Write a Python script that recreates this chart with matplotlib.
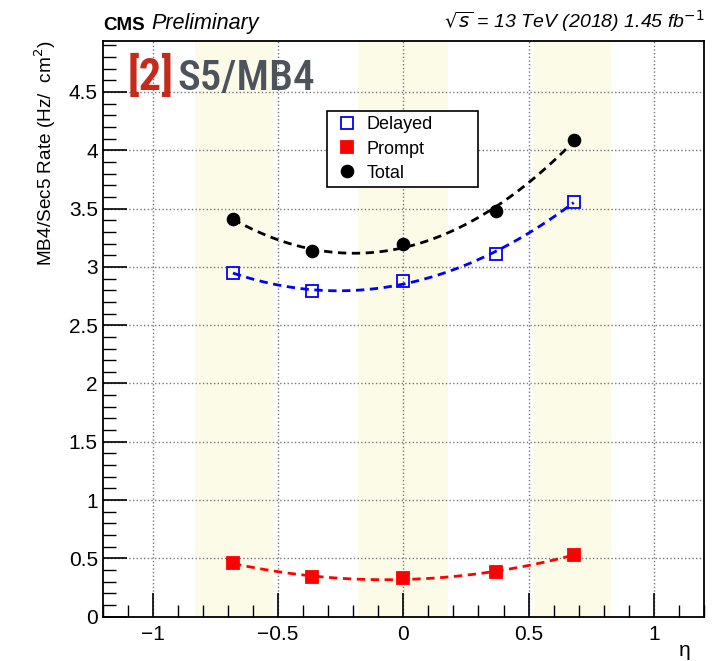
import numpy as np
import matplotlib
matplotlib.use('Agg')
import matplotlib.pyplot as plt
from matplotlib.ticker import MultipleLocator
from matplotlib.lines import Line2D

plt.rcParams['font.family'] = ['Liberation Sans', 'DejaVu Sans']

# eta positions of the five wheels
eta = [-0.68, -0.365, 0.0, 0.37, 0.68]
# rates (Hz/cm2)
delayed = [2.95, 2.79, 2.88, 3.11, 3.56]
prompt = [0.46, 0.34, 0.33, 0.385, 0.53]
total = [3.41, 3.14, 3.20, 3.48, 4.09]
# shaded eta bands
bands = [(-0.83, -0.52), (-0.18, 0.18), (0.52, 0.83)]

fig = plt.figure(figsize=(7.25, 6.61), dpi=100)
ax = fig.add_axes([0.1416, 0.067, 0.8294, 0.8715])

for lo, hi in bands:
    ax.axvspan(lo, hi, color='#fbfbe8', zorder=0, lw=0)

ax.grid(True, which='major', ls=':', color='#777777', lw=1.0, zorder=1)

series = [(delayed, 'blue', 's', 'none', 'Delayed'),
          (prompt, 'red', 's', 'red', 'Prompt'),
          (total, 'black', 'o', 'black', 'Total')]
handles = []
xf = np.linspace(eta[0], eta[-1], 100)
for vals, col, mk, fc, lab in series:
    p = np.polyfit(eta, vals, 2)
    ax.plot(xf, np.polyval(p, xf), ls=(0, (3, 2)), color=col, lw=2.0, zorder=3)
    ax.plot(eta, vals, ls='none', marker=mk, ms=8.5, mfc=fc, mec=col, mew=1.3, zorder=4)
    handles.append(Line2D([], [], ls='none', marker=mk, ms=8.5, mfc=fc, mec=col, mew=1.3, label=lab))

leg = ax.legend(handles=handles, loc='upper left', bbox_to_anchor=(0.373, 0.5, 0.251, 0.378),
                mode='expand', borderaxespad=0, fontsize=13, frameon=True, fancybox=False,
                edgecolor='black', framealpha=1, borderpad=0.3, handletextpad=0.3,
                labelspacing=0.4, handlelength=1.6)
leg.get_frame().set_linewidth(1.2)

ax.set_xlim(-1.2, 1.2)
ax.set_ylim(0, 4.94)
ax.xaxis.set_major_locator(MultipleLocator(0.5))
ax.xaxis.set_minor_locator(MultipleLocator(0.1))
ax.yaxis.set_major_locator(MultipleLocator(0.5))
ax.yaxis.set_minor_locator(MultipleLocator(0.1))
ax.tick_params(which='both', direction='in', labelsize=15, top=False, right=False)
ax.tick_params(which='major', length=17, width=1.2)
ax.tick_params(which='minor', length=9, width=1.0)
ax.tick_params(axis='x', pad=6)
ax.set_xticks([-1, -0.5, 0, 0.5, 1])
ax.set_xticklabels(['\u22121', '\u22120.5', '0', '0.5', '1'])
ax.set_yticks(np.arange(0, 4.6, 0.5))
ax.set_yticklabels(['0', '0.5', '1', '1.5', '2', '2.5', '3', '3.5', '4', '4.5'])
for s in ax.spines.values():
    s.set_linewidth(1.3)

ax.set_ylabel('MB4/Sec5 Rate (Hz/  cm$^2$)', fontsize=13.7, loc='top')
ax.yaxis.set_label_coords(-0.074, 1.0)
ax.set_xlabel('\u03b7', fontsize=15, loc='right')
ax.xaxis.set_label_coords(0.977, -0.042)

fig.text(0.142, 0.948, 'CMS', fontsize=13.5, fontweight='bold', ha='left', va='bottom')
fig.text(0.209, 0.948, 'Preliminary', fontsize=15.5, style='italic', ha='left', va='bottom')
fig.text(0.971, 0.948, r'$\sqrt{s}$ = 13 TeV (2018) 1.45 fb$^{-1}$', fontsize=14,
         style='italic', ha='right', va='bottom')

narrow = ['Roboto Condensed', 'Open Sans Condensed', 'Liberation Sans Narrow', 'DejaVu Sans']
fig.text(0.176, 0.85, '[2]', fontsize=32, fontweight='bold', color='#c52a1b',
         family=narrow, fontstretch='condensed', ha='left', va='bottom')
fig.text(0.2445, 0.85, 'S5/MB4', fontsize=31, fontweight='medium', color='#4d535a',
         family=narrow, fontstretch='condensed', ha='left', va='bottom')

fig.savefig('out.png', dpi=100)
